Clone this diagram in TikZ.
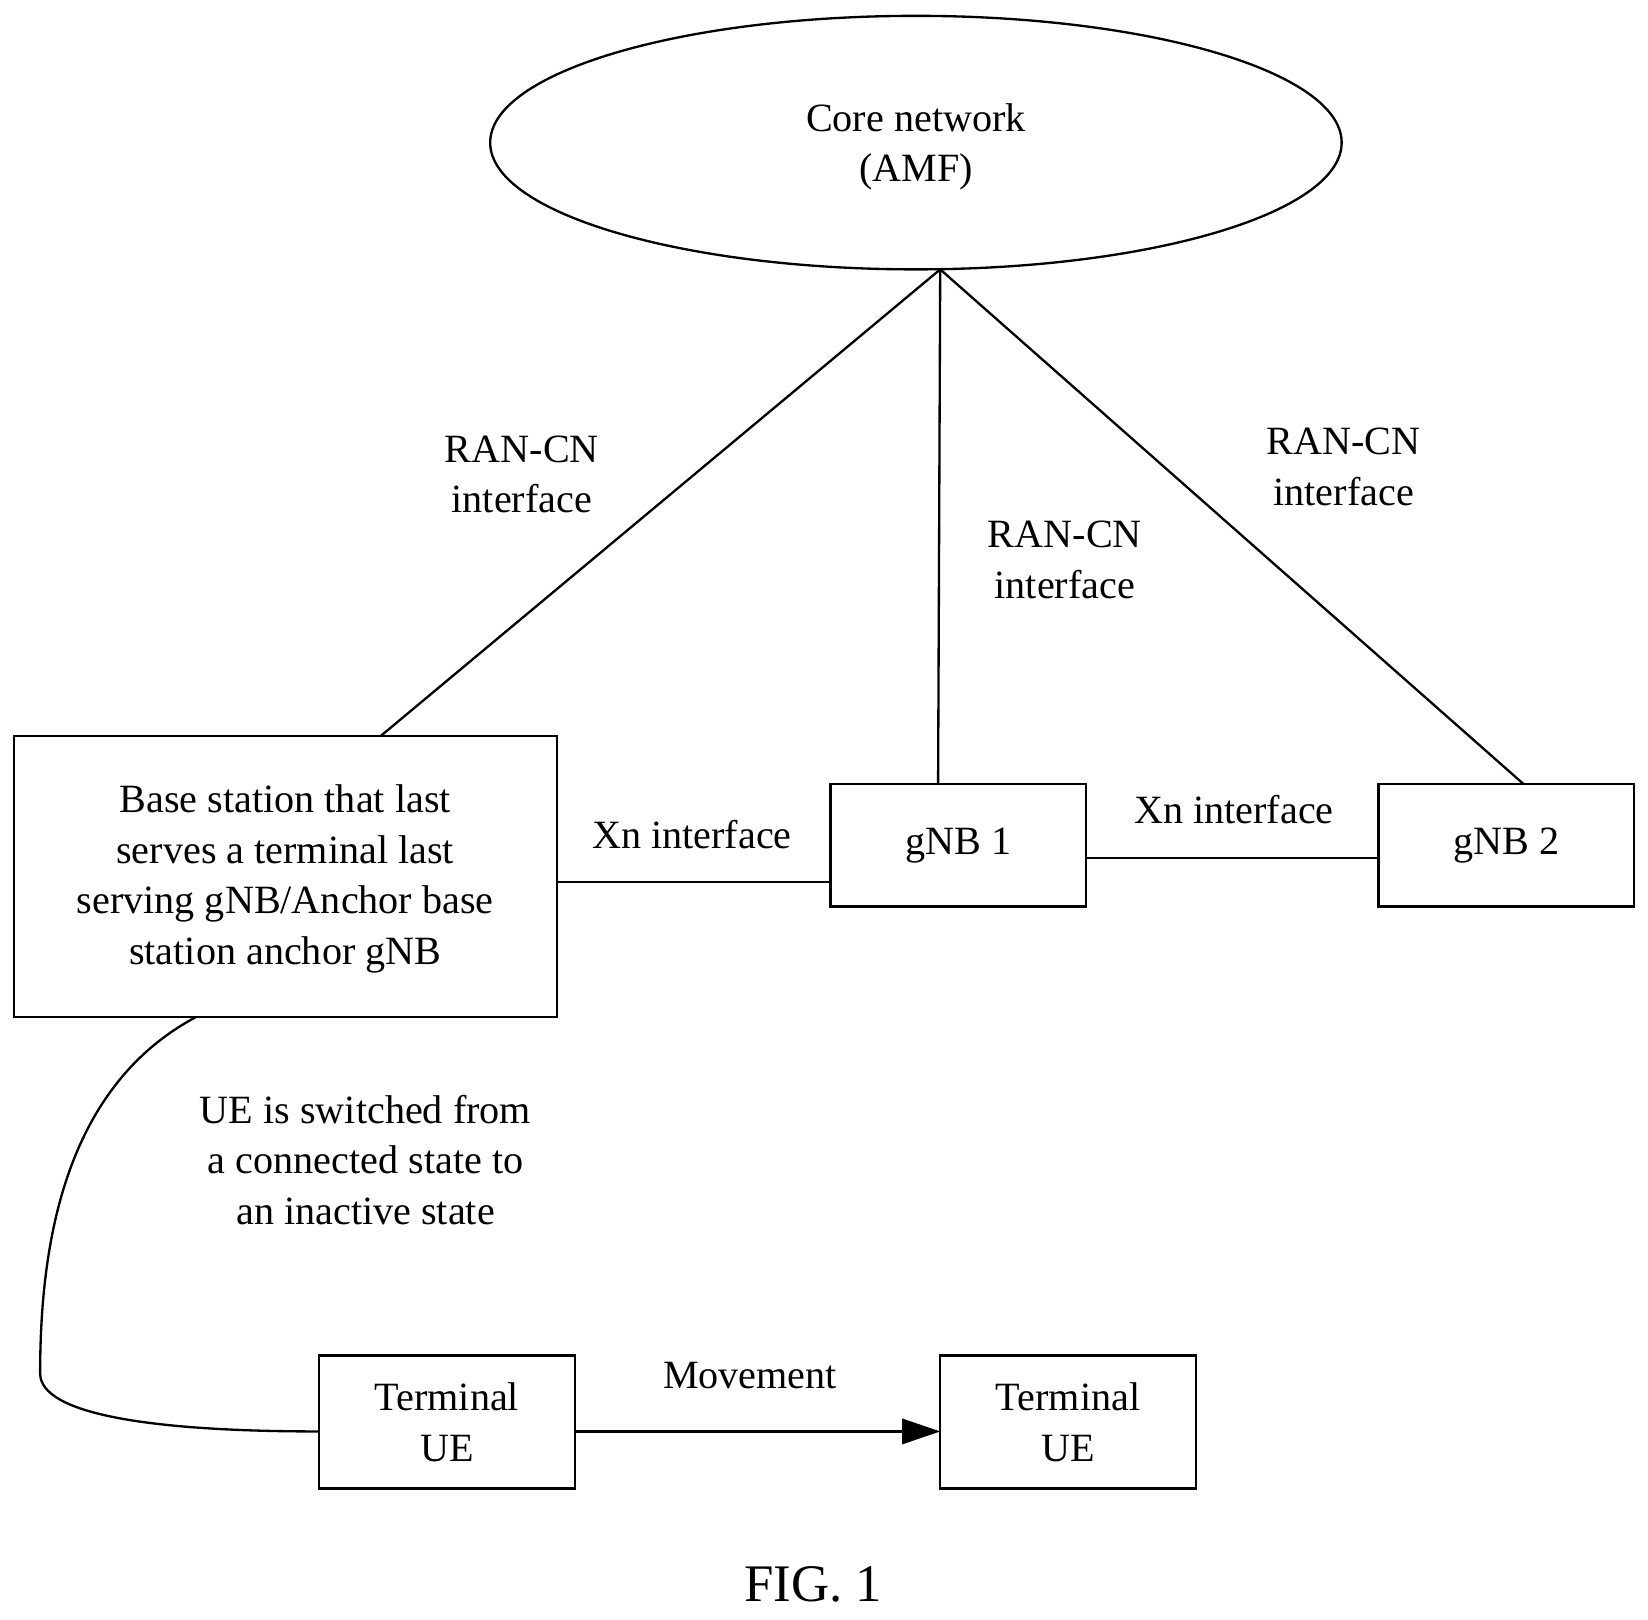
\documentclass[tikz,border=0pt]{standalone}
\usepackage{fontspec}
\setmainfont{Liberation Serif}
\usetikzlibrary{shapes.geometric,arrows.meta}
\begin{document}
\begin{tikzpicture}[x=1pt,y=-1pt,line width=2.2pt,
  box/.style={draw,rectangle,inner sep=0pt},
  lbl/.style={align=center,font=\fontsize{38}{48}\selectfont,inner sep=0pt}]
\useasboundingbox (0,0) rectangle (1560,1533);
\node[draw,ellipse,minimum width=806pt,minimum height=240pt] (cn) at (867,135) {};
\node[lbl] at (867,139) {Core network\\(AMF)};
\coordinate (apex) at (890,255);
\node[box,minimum width=514pt,minimum height=266pt] (anc) at (270,830) {};
\node[lbl] at (270,832) {Base station that last\\serves a terminal last\\serving gNB/Anchor base\\station anchor gNB};
\node[box,minimum width=242pt,minimum height=116pt,lbl] (g1) at (907,800) {gNB 1};
\node[box,minimum width=242pt,minimum height=116pt,lbl] (g2) at (1426,800) {gNB 2};
\coordinate (a1) at (360,697);
\draw (apex) -- (a1);
\draw (apex) -- (888,742);
\draw (apex) -- (1442,742);
\draw (527,835) -- (786,835);
\draw (1028,812) -- (1305,812);
\node[lbl] at (494,449) {RAN-CN\\interface};
\node[lbl] at (1008,530) {RAN-CN\\interface};
\node[lbl] at (1272,442) {RAN-CN\\interface};
\node[lbl] at (655,790) {Xn interface};
\node[lbl] at (1168,766) {Xn interface};
\node[box,minimum width=242pt,minimum height=126pt,lbl] (t1) at (423,1346) {Terminal\\UE};
\node[box,minimum width=242pt,minimum height=126pt,lbl] (t2) at (1011,1346) {Terminal\\UE};
\draw (185,963) .. controls (60,1030) and (38,1180) .. (38,1300) .. controls (38,1340) and (150,1355) .. (302,1355);
\draw[-{Triangle[length=36pt,width=24pt]}] (544,1355) -- (890,1355);
\node[lbl] at (710,1302) {Movement};
\node[lbl] at (346,1098) {UE is switched from\\a connected state to\\an inactive state};
\node[lbl,font=\fontsize{50}{60}\selectfont] at (770,1500) {FIG. 1};
\end{tikzpicture}
\end{document}
